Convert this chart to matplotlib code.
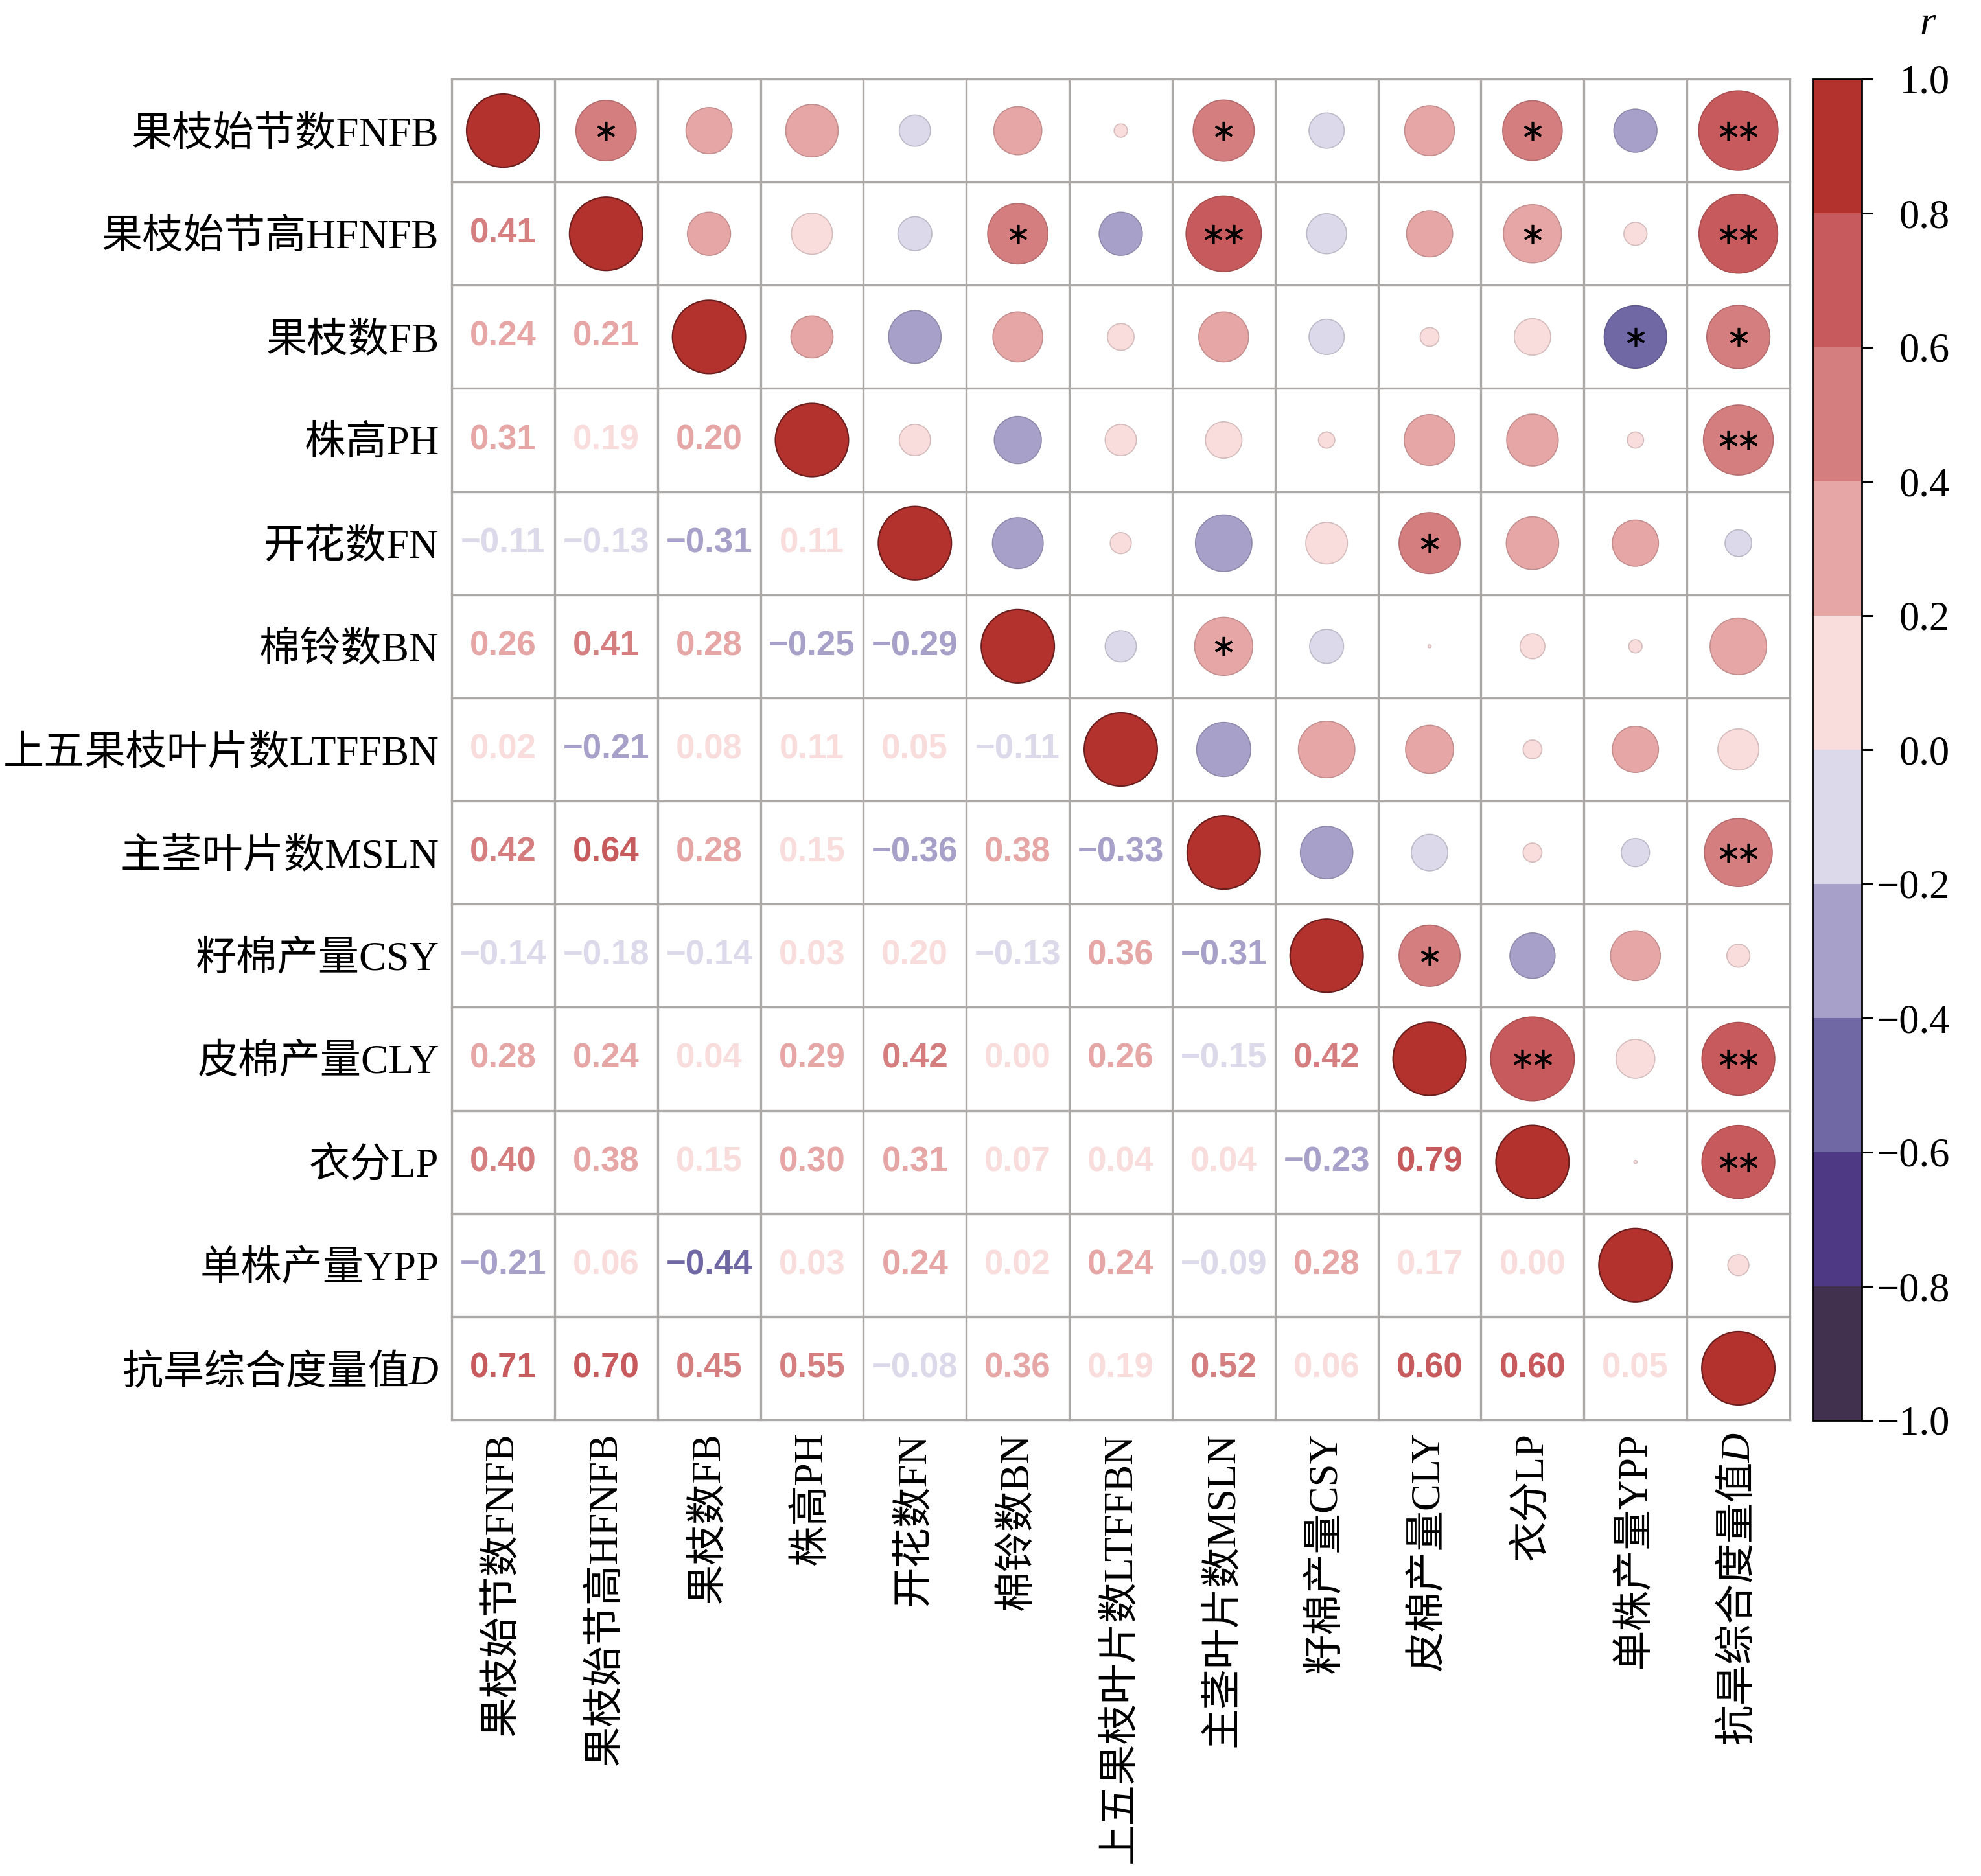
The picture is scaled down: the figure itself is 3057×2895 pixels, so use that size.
import numpy as np
import matplotlib
matplotlib.use("Agg")
import matplotlib.pyplot as plt
from matplotlib.colors import ListedColormap, BoundaryNorm, to_rgb
from matplotlib.patches import Circle
from matplotlib.cm import ScalarMappable

plt.rcParams['font.family'] = ['Liberation Serif', 'Noto Sans CJK SC']
plt.rcParams['mathtext.fontset'] = 'custom'
plt.rcParams['mathtext.rm'] = 'Noto Sans CJK SC'
plt.rcParams['mathtext.it'] = 'Liberation Serif:italic'

labels = ["果枝始节数FNFB", "果枝始节高HFNFB", "果枝数FB", "株高PH", "开花数FN",
          "棉铃数BN", "上五果枝叶片数LTFFBN", "主茎叶片数MSLN", "籽棉产量CSY",
          "皮棉产量CLY", "衣分LP", "单株产量YPP", r"$\mathrm{抗旱综合度量值}\mathit{D}$"]

# lower triangle, row by row
lower = [
    [],
    [0.41],
    [0.24, 0.21],
    [0.31, 0.19, 0.20],
    [-0.11, -0.13, -0.31, 0.11],
    [0.26, 0.41, 0.28, -0.25, -0.29],
    [0.02, -0.21, 0.08, 0.11, 0.05, -0.11],
    [0.42, 0.64, 0.28, 0.15, -0.36, 0.38, -0.33],
    [-0.14, -0.18, -0.14, 0.03, 0.196, -0.13, 0.36, -0.31],
    [0.28, 0.24, 0.04, 0.29, 0.42, 0.00, 0.26, -0.15, 0.42],
    [0.40, 0.38, 0.15, 0.30, 0.31, 0.07, 0.04, 0.04, -0.23, 0.79],
    [-0.21, 0.06, -0.44, 0.03, 0.24, 0.02, 0.24, -0.09, 0.28, 0.17, 0.00],
    [0.71, 0.70, 0.45, 0.55, -0.08, 0.36, 0.19, 0.52, 0.06, 0.60, 0.60, 0.05],
]

# significance marks in the upper triangle: (row, col, number of stars)
stars = [(0, 1, 1), (0, 7, 1), (0, 10, 1), (0, 12, 2),
         (1, 5, 1), (1, 7, 2), (1, 10, 1), (1, 12, 2),
         (2, 11, 1), (2, 12, 1), (3, 12, 2), (4, 9, 1), (5, 7, 1),
         (7, 12, 2), (8, 9, 1), (9, 10, 2), (9, 12, 2), (10, 12, 2)]

bounds = np.round(np.linspace(-1, 1, 11), 1)
cbar_colors = ['#42304f', '#4e3a84', '#6f68a4', '#a7a1c9', '#dcd9ea',
               '#f9dcdc', '#e6a6a6', '#d47e80', '#c65a5c', '#b3322e']
cmap = ListedColormap(cbar_colors)
norm = BoundaryNorm(bounds, cmap.N, clip=True)

n = len(labels)
r = np.eye(n)
for i, row in enumerate(lower):
    for j, v in enumerate(row):
        r[i, j] = v
        r[j, i] = v

W, H = 3057, 2895
fig = plt.figure(figsize=(W / 100, H / 100), dpi=100)
ax = fig.add_axes([697 / W, 1 - 2191 / H, 2065 / W, 2069 / H])
cax = fig.add_axes([2797 / W, 1 - 2192 / H, 76 / W, 2070 / H])

grid_c = '#aca8a6'
for k in range(n + 1):
    ax.axhline(k, color=grid_c, lw=2.4, zorder=1, clip_on=False)
    ax.axvline(k, color=grid_c, lw=2.4, zorder=1, clip_on=False)

for i in range(n):
    for j in range(n):
        v = r[i, j]
        c = cmap(norm(v))
        edge = np.array(to_rgb(c)) * 0.85
        if i == j:
            circ = Circle((j + 0.5, i + 0.5), 0.355, facecolor=c,
                          edgecolor=np.array(to_rgb(c)) * 0.6, lw=1.6, zorder=2)
            ax.add_patch(circ)
        elif j > i:
            rad = max(0.5 * 0.915 * np.sqrt(abs(v)), 0.015)
            circ = Circle((j + 0.5, i + 0.5), rad, facecolor=c,
                          edgecolor=edge, lw=1.2, zorder=2)
            ax.add_patch(circ)
        else:
            txt = f"{abs(v):.2f}"
            if v < 0:
                txt = "\u2212" + txt
            ax.text(j + 0.5, i + 0.5, txt, ha='center', va='center',
                    fontsize=38, fontweight='bold', family='Liberation Sans',
                    color=c, zorder=3)

for i, j, k in stars:
    if k == 1:
        xs = [j + 0.5]
    else:
        xs = [j + 0.5 - 0.1, j + 0.5 + 0.1]
    ax.plot(xs, [i + 0.5] * len(xs), ls='none', marker=(6, 2, 0),
            ms=21, mew=2.6, color='k', zorder=4)

ax.set_xlim(0, n)
ax.set_ylim(n, 0)
for s in ax.spines.values():
    s.set_visible(False)
ax.set_xticks(np.arange(n) + 0.5)
ax.set_xticklabels(labels, rotation=90, fontsize=45)
ax.set_yticks(np.arange(n) + 0.5)
ax.set_yticklabels(labels, fontsize=45.5)
ax.tick_params(length=0, pad=14)

cb = fig.colorbar(ScalarMappable(norm=norm, cmap=cmap), cax=cax, ticks=bounds)
cb.outline.set_linewidth(2)
cb.outline.set_edgecolor('black')
tick_labels = []
for t in bounds:
    s = f"{abs(t):.1f}"
    if t < -1e-9:
        s = "\u2212" + s
    tick_labels.append(s)
cb.set_ticklabels(tick_labels)
cax.tick_params(length=12, width=2.2, direction='out', labelsize=45, pad=86)
for lab in cax.get_yticklabels():
    lab.set_horizontalalignment('right')

fig.text(2975 / W, 1 - 38 / H, 'r', style='italic', fontsize=45,
         ha='center', va='center')

fig.savefig('out.png', dpi=100, facecolor='white')
